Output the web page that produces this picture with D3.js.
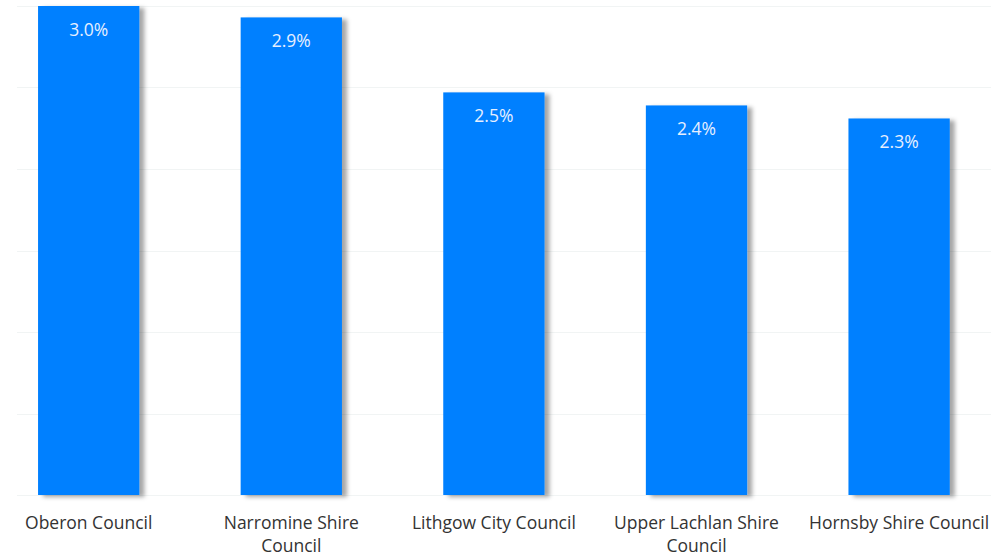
<!DOCTYPE html>
<html>
<head>
<meta charset="utf-8">
<title>Council bar chart</title>
<script src="https://d3js.org/d3.v7.min.js"></script>
<style>
  body { margin: 0; background: #fff; }
  svg text { font-family: "Open Sans", "Noto Sans", sans-serif; }
</style>
</head>
<body>
<div id="chart"></div>
<script>
// data
var councils = ["Oberon Council", "Narromine Shire Council", "Lithgow City Council", "Upper Lachlan Shire Council", "Hornsby Shire Council"];
var values = [3.0, 2.93, 2.47, 2.39, 2.31];
var gridTicks = [0, 0.5, 1, 1.5, 2, 2.5, 3];

var w = 991, h = 557;
var baseY = 495, topY = 6;

var svg = d3.select("#chart").append("svg")
  .attr("width", w)
  .attr("height", h);

// shadow on the bars
var defs = svg.append("defs");
var f = defs.append("filter").attr("id", "shadow")
  .attr("x", "-10%").attr("y", "-10%").attr("width", "130%").attr("height", "120%");
f.append("feDropShadow")
  .attr("dx", 5).attr("dy", 2)
  .attr("stdDeviation", 2)
  .attr("flood-color", "#000")
  .attr("flood-opacity", 0.35);

var x = d3.scaleBand()
  .domain(councils)
  .range([-12.6, 1000.4])
  .paddingInner(0.5)
  .paddingOuter(0.25);

var y = d3.scaleLinear()
  .domain([0, 3])
  .range([baseY, topY]);

// faint gridlines
svg.append("g").selectAll("line")
  .data(gridTicks)
  .enter().append("line")
  .attr("x1", 17).attr("x2", w)
  .attr("y1", function(d) { return Math.round(y(d)) + 0.5; })
  .attr("y2", function(d) { return Math.round(y(d)) + 0.5; })
  .attr("stroke", "#f1f4f4")
  .attr("stroke-width", 1);

// bars
svg.append("g").selectAll("rect")
  .data(values)
  .enter().append("rect")
  .attr("x", function(d, i) { return x(councils[i]); })
  .attr("y", function(d) { return y(d); })
  .attr("width", x.bandwidth())
  .attr("height", function(d) { return baseY - y(d); })
  .attr("fill", "#0080ff")
  .attr("filter", "url(#shadow)");

// value labels
svg.append("g").selectAll("text")
  .data(values)
  .enter().append("text")
  .attr("x", function(d, i) { return x(councils[i]) + x.bandwidth() / 2; })
  .attr("y", function(d) { return y(d) + 30; })
  .attr("text-anchor", "middle")
  .attr("fill", "#e6efff")
  .style("font-size", "17.5px")
  .text(function(d) { return d.toFixed(1) + "%"; });

// category labels, wrapped
var labels = svg.append("g").selectAll("text")
  .data(councils)
  .enter().append("text")
  .attr("text-anchor", "middle")
  .attr("fill", "#333")
  .style("font-size", "17.5px")
  .attr("y", 529);

labels.each(function(d) {
  var t = d3.select(this);
  var cx = x(d) + x.bandwidth() / 2;
  var words = d.split(" ");
  var line = [];
  var lineNo = 0;
  var tspan = t.append("tspan").attr("x", cx).attr("y", 529);
  words.forEach(function(word) {
    line.push(word);
    tspan.text(line.join(" "));
    if (tspan.node().getComputedTextLength() > 195 && line.length > 1) {
      line.pop();
      tspan.text(line.join(" "));
      line = [word];
      lineNo++;
      tspan = t.append("tspan").attr("x", cx).attr("y", 529 + lineNo * 23).text(word);
    }
  });
});
</script>
</body>
</html>
